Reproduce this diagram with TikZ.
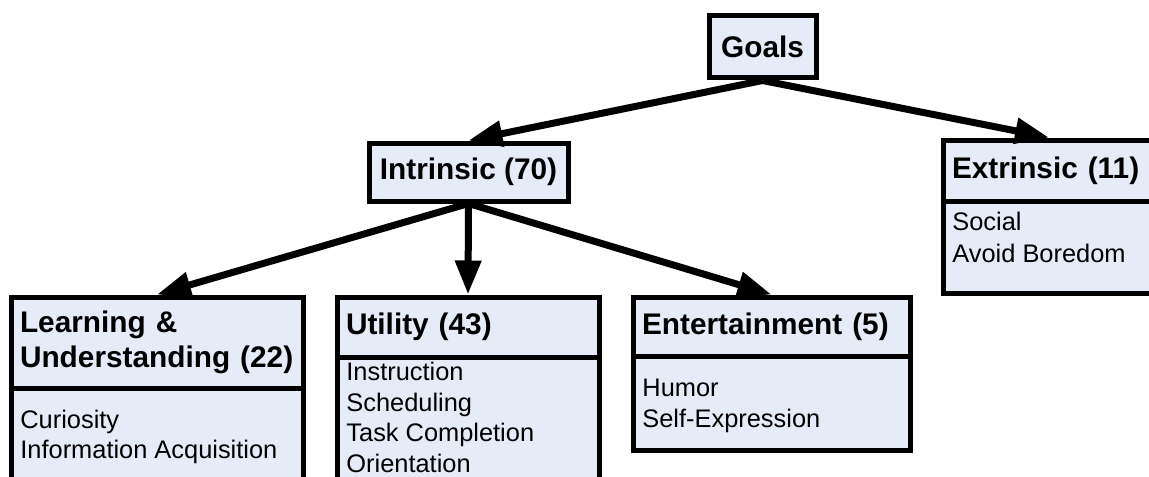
\documentclass[tikz,border=0pt]{standalone}
\usepackage{fontspec}
\setmainfont{Liberation Sans}
\usetikzlibrary{arrows.meta}
\definecolor{boxfill}{RGB}{230,236,247}
\begin{document}
\begin{tikzpicture}[x=0.5pt,y=-0.5pt,
  box/.style={draw=black, fill=boxfill, line width=2.5pt, rectangle, inner sep=0pt},
  title/.style={font=\fontsize{14.9}{17.5}\selectfont\bfseries},
  head/.style={box, title, align=left, inner xsep=4.5pt, inner ysep=0pt},
  item/.style={font=\fontsize{12.7}{15}\selectfont, inner sep=0pt, anchor=base west},
  link/.style={line width=3.5pt, -{Triangle[length=17pt,width=12.5pt]}}]
\useasboundingbox (0,0) rectangle (1149,476);
\clip (0,0) rectangle (1149,476);

% top two levels
\node[box, title, minimum width=53.5pt, minimum height=31pt] (goals) at (762.5,47) {Goals};
\node[box, title, minimum width=99.5pt, minimum height=29pt] (intr) at (468.5,172) {Intrinsic (70)};

% extrinsic goals
\node[box, minimum width=106pt, minimum height=46pt] (extb) at (1049,247) {};
\node[head, text width=97pt, minimum height=30.5pt] (ext) at (1049,170.5) {Extrinsic (11)};
\node[item] (ext1) at (952,230) {Social};
\node[item] (ext2) at (952,262) {Avoid Boredom};

% learning & understanding
\node[box, minimum width=146pt, minimum height=76pt] (learnb) at (157,464) {};
\node[head, text width=137pt, minimum height=45.5pt] (learn) at (157,342.5) {Learning \&\\Understanding (22)};
\node[item] (learn1) at (20,428) {Curiosity};
\node[item] (learn2) at (20,458) {Information Acquisition};

% utility
\node[box, minimum width=131pt, minimum height=91.5pt] (utilb) at (468,448.5) {};
\node[head, text width=122pt, minimum height=30pt] (util) at (468,327) {Utility (43)};
\node[item] (util1) at (346,380) {Instruction};
\node[item] (util2) at (346,411) {Scheduling};
\node[item] (util3) at (346,441) {Task Completion};
\node[item] (util4) at (346,472) {Orientation};

% entertainment
\node[box, minimum width=138.5pt, minimum height=47pt] (entb) at (771.5,403) {};
\node[head, text width=129.5pt, minimum height=29.5pt] (ent) at (771.5,326.5) {Entertainment (5)};
\node[item] (ent1) at (642,396) {Humor};
\node[item] (ent2) at (642,427) {Self-Expression};

% connectors
\draw[link] (goals.south) -- (intr.north);
\draw[link] (goals.south) -- (ext.north);
\draw[link] (intr.south) -- (learn.north);
\draw[link] (intr.south) -- (util.north);
\draw[link] (intr.south) -- (ent.north);
\end{tikzpicture}
\end{document}
